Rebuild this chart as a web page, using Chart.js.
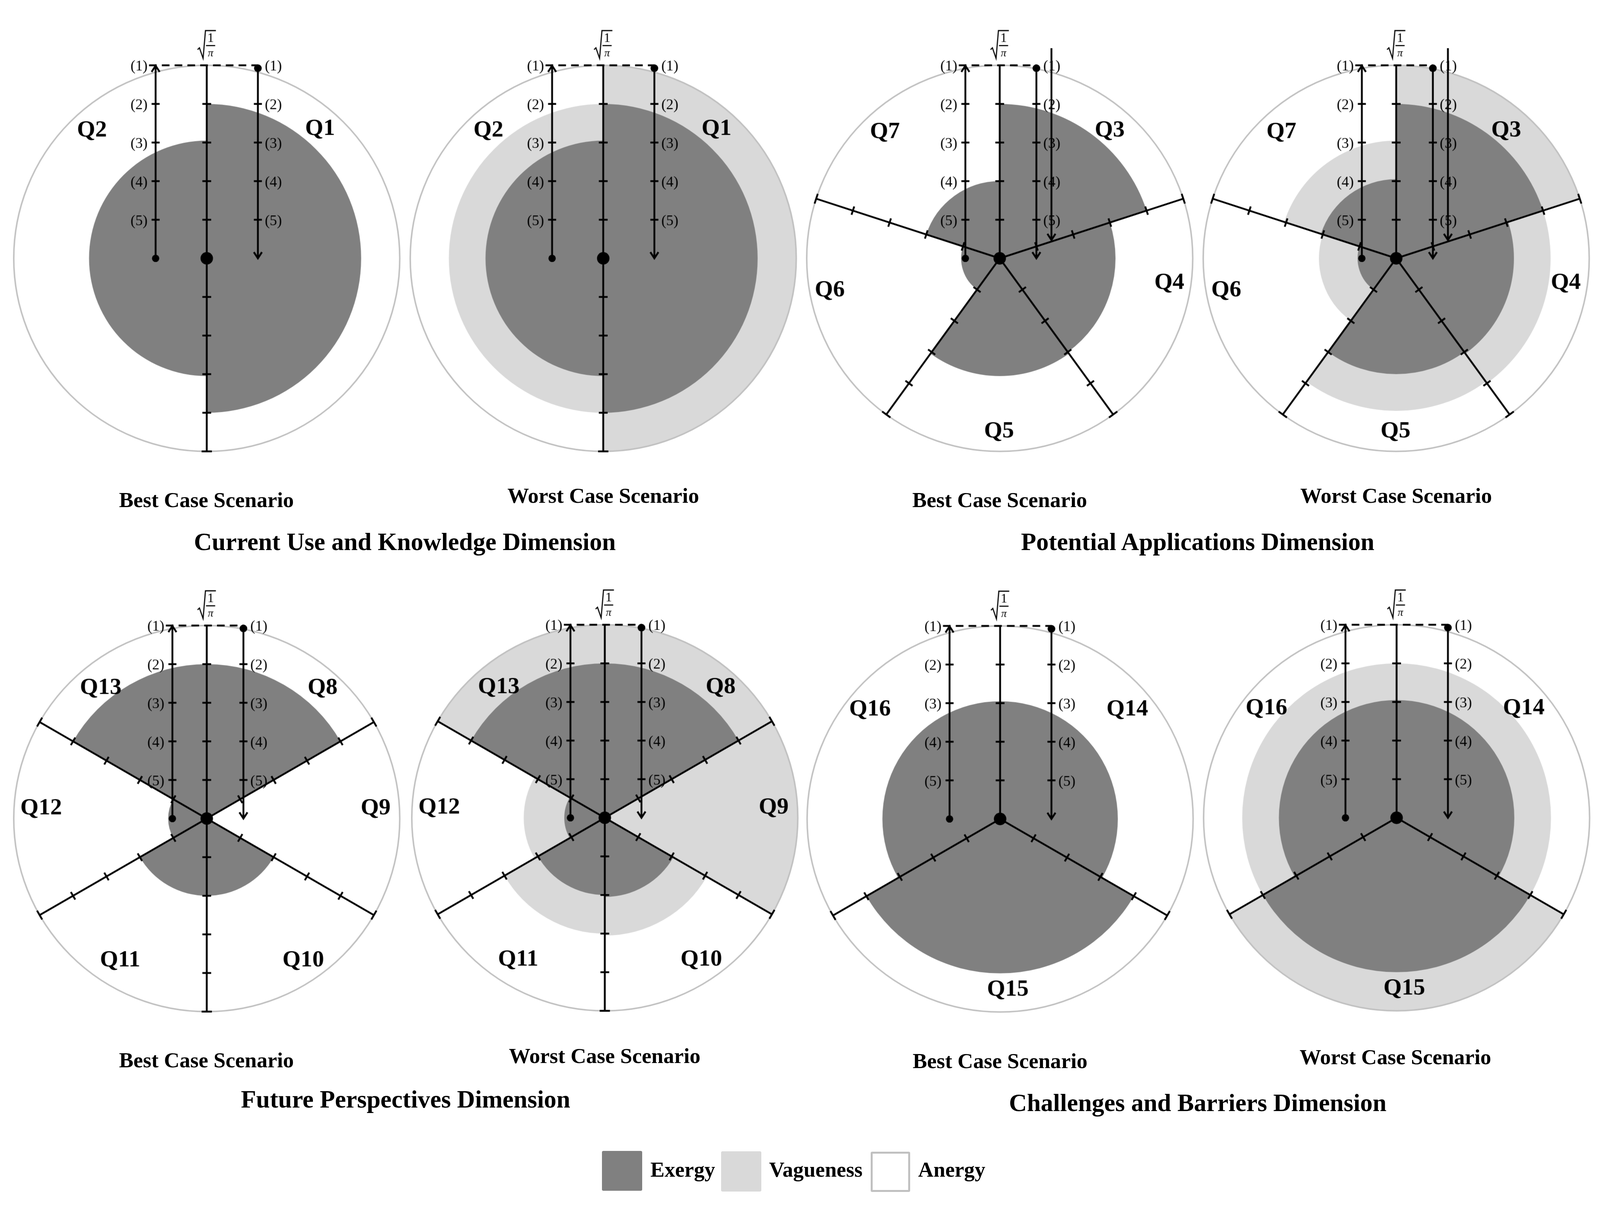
<!DOCTYPE html>
<html>
<head>
<meta charset="utf-8">
<script src="https://cdn.jsdelivr.net/npm/chart.js@4.4.1/dist/chart.umd.min.js"></script>
<style>
html,body{margin:0;padding:0;background:#fff;overflow:hidden;}
#frame{position:relative;overflow:hidden;background:#fff;}
.box{position:absolute;width:1400px;height:1400px;transform-origin:50% 50%;}
.box canvas{display:block;}
.txt{position:absolute;font-family:"Liberation Serif","Times New Roman",serif;font-weight:bold;color:#000;white-space:nowrap;line-height:1;z-index:5;}
.leg{position:absolute;box-sizing:border-box;z-index:5;}
</style>
</head>
<body>
<div id="frame"></div>
<script>
// ---------------- DATA ----------------
const cuQuestions = ['Q1', 'Q2'];
const cuBestExergy = [0.80, 0.61];
const cuWorstExergy = [0.80, 0.61];
const cuWorstVagueness = [1.00, 0.80];

const paQuestions = ['Q3', 'Q4', 'Q5', 'Q6', 'Q7'];
const paBestExergy = [0.80, 0.60, 0.61, 0.20, 0.40];
const paWorstExergy = [0.80, 0.61, 0.60, 0.20, 0.41];
const paWorstVagueness = [1.00, 0.80, 0.79, 0.40, 0.61];

const fpQuestions = ['Q8', 'Q9', 'Q10', 'Q11', 'Q12', 'Q13'];
const fpBestExergy = [0.80, 0.00, 0.40, 0.40, 0.20, 0.80];
const fpWorstExergy = [0.80, 0.00, 0.41, 0.40, 0.21, 0.80];
const fpWorstVagueness = [1.00, 1.00, 0.61, 0.60, 0.42, 1.00];

const cbQuestions = ['Q14', 'Q15', 'Q16'];
const cbBestExergy = [0.61, 0.80, 0.61];
const cbWorstExergy = [0.61, 0.80, 0.61];
const cbWorstVagueness = [0.80, 1.00, 0.80];

const scaleLabels = ['(1)', '(2)', '(3)', '(4)', '(5)'];
const scaleLabelValues = [1.0, 0.8, 0.6, 0.4, 0.2];
const radialMax = 1;
const radialStep = 0.2;

const dimensionTitles = ['Current Use and Knowledge Dimension', 'Potential Applications Dimension',
                         'Future Perspectives Dimension', 'Challenges and Barriers Dimension'];
const scenarioTitles = ['Best Case Scenario', 'Worst Case Scenario'];
const legendLabels = ['Exergy', 'Vagueness', 'Anergy'];

// ---------------- STYLE / LAYOUT ----------------
const W = 4379, H = 3087;
const exergyColor = '#808080';
const vaguenessColor = '#d9d9d9';
const circleColor = '#c0c0c0';
const SERIF = '"Liberation Serif","Times New Roman",serif';
const HALF = 700, PAD = 172;

const frame = document.getElementById('frame');
const iw = window.innerWidth || document.documentElement.clientWidth || W;
const ih = window.innerHeight || document.documentElement.clientHeight || H;
let sx = iw / W, sy = ih / H;
if (!isFinite(sx) || sx <= 0) sx = 1;
if (!isFinite(sy) || sy <= 0) sy = 1;
const su = Math.min(sx, sy);            // uniform scale for shapes and fonts
const dpr = window.devicePixelRatio || 1;
frame.style.width = (W * sx) + 'px';
frame.style.height = (H * sy) + 'px';

const qPos2 = [[310, -354], [-314, -350]];
const qPos5 = [[301, -350], [464, 67], [-2, 473], [-465, 87], [-314, -346]];
const qPos6 = [[317, -357], [462, -28], [264, 388], [-237, 388], [-453, -28], [-290, -357]];
const qPos3 = [[348, -300], [21, 467], [-356, -300]];

const specs = [
  {cx: 565,  cy: 661,  q: cuQuestions, ex: cuBestExergy,  vg: null,             arrows: [-0.265, 0.265], extra: null, qpos: qPos2},
  {cx: 1651, cy: 661,  q: cuQuestions, ex: cuWorstExergy, vg: cuWorstVagueness, arrows: [-0.265, 0.265], extra: null, qpos: qPos2},
  {cx: 2736, cy: 661,  q: paQuestions, ex: paBestExergy,  vg: null,             arrows: [-0.178, 0.19],  extra: 0.268, qpos: qPos5},
  {cx: 3821, cy: 661,  q: paQuestions, ex: paWorstExergy, vg: paWorstVagueness, arrows: [-0.178, 0.19],  extra: 0.268, qpos: qPos5},
  {cx: 565,  cy: 2095, q: fpQuestions, ex: fpBestExergy,  vg: null,             arrows: [-0.178, 0.19],  extra: null, qpos: qPos6},
  {cx: 1655, cy: 2093, q: fpQuestions, ex: fpWorstExergy, vg: fpWorstVagueness, arrows: [-0.178, 0.19],  extra: null, qpos: qPos6},
  {cx: 2737, cy: 2096, q: cbQuestions, ex: cbBestExergy,  vg: null,             arrows: [-0.262, 0.266], extra: null, qpos: qPos3},
  {cx: 3822, cy: 2093, q: cbQuestions, ex: cbWorstExergy, vg: cbWorstVagueness, arrows: [-0.265, 0.266], extra: null, qpos: qPos3}
];

// ---------------- DECORATION PLUGIN ----------------
const decoPlugin = {
  id: 'deco',
  afterDraw(chart, args, opts) {
    const s = chart.scales.r, ctx = chart.ctx;
    const cx = s.xCenter, cy = s.yCenter, R = s.drawingArea;
    const k = R / 528;
    const dist = v => s.getDistanceFromCenterForValue(v);
    const n = chart.data.labels.length;
    const inner = s.ticks.map(t => t.value).filter(v => v > 1e-6 && v < radialMax - 1e-6);
    const top = cy - dist(radialMax);
    const chevron = (x, y, dir) => {
      ctx.beginPath();
      ctx.moveTo(x - 11, y - dir * 17);
      ctx.lineTo(x, y);
      ctx.lineTo(x + 11, y - dir * 17);
      ctx.stroke();
    };
    const dot = (x, y, r) => { ctx.beginPath(); ctx.arc(x, y, r, 0, Math.PI * 2); ctx.fill(); };

    ctx.save();
    ctx.strokeStyle = '#000';
    ctx.fillStyle = '#000';
    ctx.lineWidth = 5;
    ctx.lineJoin = 'miter';
    ctx.lineCap = 'butt';

    // radial axes with ticks
    for (let i = 0; i < n; i++) {
      const end = s.getPointPosition(i, dist(radialMax));
      const a = end.angle, px = -Math.sin(a), py = Math.cos(a);
      ctx.beginPath(); ctx.moveTo(cx, cy); ctx.lineTo(end.x, end.y); ctx.stroke();
      const marks = i === 0 ? inner : inner.concat([radialMax]);
      marks.forEach(v => {
        const p = s.getPointPosition(i, dist(v));
        const L = v >= radialMax ? 14 : 12;
        ctx.beginPath();
        ctx.moveTo(p.x + px * L, p.y + py * L);
        ctx.lineTo(p.x - px * L, p.y - py * L);
        ctx.stroke();
      });
    }

    // arrows
    const lx = cx + opts.arrows[0] * R, rx = cx + opts.arrows[1] * R;
    ctx.setLineDash([21, 14]);
    ctx.beginPath(); ctx.moveTo(lx - 18, top); ctx.lineTo(rx, top); ctx.stroke();
    ctx.setLineDash([]);

    ctx.beginPath(); ctx.moveTo(lx, cy); ctx.lineTo(lx, top + 3); ctx.stroke();
    chevron(lx, top + 1, -1);
    dot(lx, cy, 10);

    ctx.beginPath(); ctx.moveTo(rx, top + 8); ctx.lineTo(rx, cy - 3); ctx.stroke();
    chevron(rx, cy, 1);
    dot(rx, top + 8, 10.5);

    inner.forEach(v => {
      const y = cy - dist(v);
      [lx, rx].forEach(x => { ctx.beginPath(); ctx.moveTo(x - 11, y); ctx.lineTo(x + 11, y); ctx.stroke(); });
    });

    if (opts.extra) {
      const ex = cx + opts.extra * R;
      const tipY = cy - dist(0.095);
      ctx.beginPath(); ctx.moveTo(ex, top - 47 * k); ctx.lineTo(ex, tipY - 3); ctx.stroke();
      chevron(ex, tipY, 1);
    }

    // centre dot
    dot(cx, cy, 17);

    // scale labels
    ctx.font = '40px ' + SERIF;
    ctx.textBaseline = 'middle';
    scaleLabelValues.forEach((v, j) => {
      const y = cy - dist(v) + 4;
      ctx.textAlign = 'right'; ctx.fillText(scaleLabels[j], lx - 22, y);
      ctx.textAlign = 'left'; ctx.fillText(scaleLabels[j], rx + 19, y);
    });

    // sqrt(1/pi)
    ctx.lineWidth = 3;
    ctx.beginPath();
    ctx.moveTo(cx - 25, top - 43);
    ctx.lineTo(cx - 20, top - 48);
    ctx.lineTo(cx - 10, top - 19);
    ctx.lineTo(cx - 3.5, top - 95);
    ctx.lineTo(cx + 25, top - 95);
    ctx.stroke();
    ctx.beginPath(); ctx.moveTo(cx - 2, top - 54); ctx.lineTo(cx + 23, top - 54); ctx.stroke();
    ctx.textAlign = 'center';
    ctx.font = '36px ' + SERIF;
    ctx.fillText('1', cx + 10.5, top - 73);
    ctx.font = 'italic 30px ' + SERIF;
    ctx.fillText('π', cx + 10.5, top - 32);

    // question labels
    ctx.font = 'bold 64px ' + SERIF;
    chart.data.labels.forEach((lab, j) => {
      const p = opts.qpos[j];
      ctx.fillText(lab, cx + p[0] * k, cy + p[1] * k);
    });
    ctx.restore();
  }
};

// ---------------- BUILD CHARTS ----------------
specs.forEach(sp => {
  const box = document.createElement('div');
  box.className = 'box';
  box.style.left = (sp.cx * sx - HALF) + 'px';
  box.style.top = (sp.cy * sy - HALF) + 'px';
  box.style.transform = 'scale(' + su + ')';
  const cv = document.createElement('canvas');
  cv.width = 2 * HALF; cv.height = 2 * HALF;
  box.appendChild(cv);
  frame.appendChild(box);

  const datasets = [{label: legendLabels[0], data: sp.ex, backgroundColor: exergyColor, borderWidth: 0}];
  if (sp.vg) datasets.push({label: legendLabels[1], data: sp.vg, backgroundColor: vaguenessColor, borderWidth: 0});

  new Chart(cv, {
    type: 'polarArea',
    data: {labels: sp.q, datasets},
    options: {
      responsive: false,
      animation: false,
      devicePixelRatio: su * dpr,
      events: [],
      layout: {padding: PAD},
      plugins: {
        legend: {display: false},
        tooltip: {enabled: false},
        deco: {arrows: sp.arrows, extra: sp.extra, qpos: sp.qpos}
      },
      scales: {
        r: {
          min: 0, max: radialMax,
          startAngle: 0,
          ticks: {display: false, stepSize: radialStep},
          grid: {
            z: 1, lineWidth: 4, circular: true,
            color: c => (c.tick && c.tick.value >= radialMax - 1e-6) ? circleColor : 'rgba(0,0,0,0)'
          },
          angleLines: {display: false},
          pointLabels: {display: false}
        }
      }
    },
    plugins: [decoPlugin]
  });
});

// ---------------- TEXT ----------------
function addText(str, x, baseline, size, align) {
  const d = document.createElement('div');
  d.className = 'txt';
  d.textContent = str;
  const f = size * su;
  d.style.fontSize = f + 'px';
  d.style.top = (baseline * sy - 0.8375 * f) + 'px';
  d.style.left = (x * sx) + 'px';
  if (align === 'center') d.style.transform = 'translateX(-50%)';
  frame.appendChild(d);
}
const scenarioPos = [[565, 1298, 0], [1651, 1287, 1], [2736, 1298, 0], [3821, 1287, 1],
                     [565, 2732, 0], [1655, 2721, 1], [2737, 2734, 0], [3819, 2724, 1]];
scenarioPos.forEach(p => addText(scenarioTitles[p[2]], p[0], p[1], 59, 'center'));
const dimPos = [[1108, 1408], [3278, 1408], [1110, 2835], [3278, 2844]];
dimensionTitles.forEach((t, i) => addText(t, dimPos[i][0], dimPos[i][1], 68, 'center'));

// legend
const legBoxes = [
  {x: 1648, y: 2942, w: 110, h: 110, bg: exergyColor, border: 'none'},
  {x: 1974, y: 2943, w: 110, h: 111, bg: vaguenessColor, border: 'none'},
  {x: 2383, y: 2944, w: 108, h: 111, bg: '#ffffff', border: (6 * su) + 'px solid ' + circleColor}
];
const legTextX = [1780, 2105, 2513];
legBoxes.forEach((b, i) => {
  const d = document.createElement('div');
  d.className = 'leg';
  Object.assign(d.style, {
    left: (b.x * sx) + 'px',
    top: ((b.y + b.h / 2) * sy - b.h * su / 2) + 'px',
    width: (b.w * su) + 'px', height: (b.h * su) + 'px',
    background: b.bg, border: b.border, borderRadius: (4 * su) + 'px'
  });
  frame.appendChild(d);
  addText(legendLabels[i], legTextX[i], 3012, 58, 'left');
});
</script>
</body>
</html>
